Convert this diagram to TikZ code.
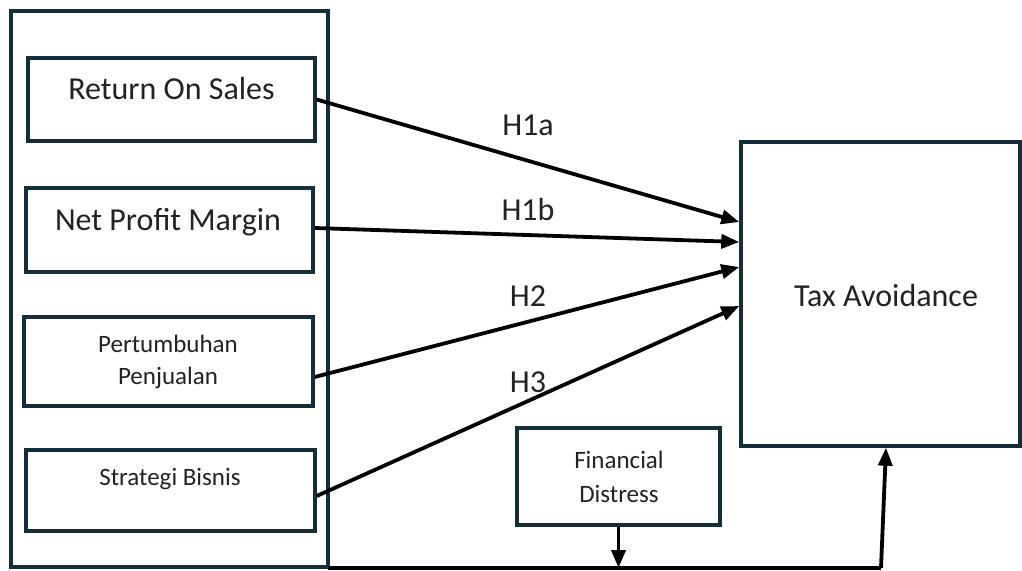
\documentclass[tikz,border=0pt]{standalone}
\usepackage{fontspec}
\setmainfont{Carlito}
\usetikzlibrary{arrows.meta,calc}
\definecolor{boxc}{HTML}{142F3A}
\definecolor{txtc}{HTML}{222222}
\begin{document}
\begin{tikzpicture}[x=1pt,y=-1pt,
  box/.style={draw=boxc,line width=3.4pt,inner sep=0pt,fill=none},
  bigtxt/.style={text=txtc,font=\fontsize{32}{36}\selectfont,anchor=base,inner sep=0pt},
  smalltxt/.style={text=txtc,font=\fontsize{25}{33}\selectfont,anchor=base,inner sep=0pt,align=center},
  conn/.style={black,line width=3.8pt,-{Triangle[length=18pt,width=14pt]}},
  plain/.style={black,line width=3.8pt}]
\useasboundingbox (0,0) rectangle (1022,570);
\fill[white] (0,0) rectangle (1022,570);
% boxes
\node[box,minimum width=317pt,minimum height=556pt] (outer) at (169.5,289) {};
\node[box,minimum width=287pt,minimum height=83pt] (ros) at (171.5,99.5) {};
\node[box,minimum width=287pt,minimum height=84pt] (npm) at (169.5,230) {};
\node[box,minimum width=289pt,minimum height=89pt] (pp) at (168.5,361.5) {};
\node[box,minimum width=289pt,minimum height=81pt] (sb) at (170.5,490.5) {};
\node[box,minimum width=279pt,minimum height=304pt] (tax) at (880.5,294) {};
\node[box,minimum width=203pt,minimum height=97pt] (fd) at (618.5,476.5) {};
% texts
\node[bigtxt] (tros) at (171.5,99) {Return On Sales};
\node[bigtxt] (tnpm) at (168,230) {Net Profit Margin};
\node[smalltxt] (tpp1) at (168,352) {Pertumbuhan};
\node[smalltxt] (tpp2) at (168,384) {Penjualan};
\node[smalltxt] (tsb) at (170,485) {Strategi Bisnis};
\node[bigtxt] (ttax) at (886,306) {Tax Avoidance};
\node[smalltxt] (tfd1) at (619,468) {Financial};
\node[smalltxt] (tfd2) at (619,502) {Distress};
\node[bigtxt] (h1a) at (528,135) {H1a};
\node[bigtxt] (h1b) at (528,220) {H1b};
\node[bigtxt] (h2) at (528,306) {H2};
\node[bigtxt] (h3) at (528,392) {H3};
% connectors
\draw[conn] (ros.east) -- ([yshift=72pt]tax.west);
\draw[conn] ([yshift=2pt]npm.east) -- ([yshift=52pt]tax.west);
\draw[conn] ([yshift=-15.5pt]pp.east) -- ([yshift=27pt]tax.west);
\draw[conn] ([yshift=-5.5pt]sb.east) -- ([yshift=-12pt]tax.west);
\coordinate (bl) at (328,568);
\coordinate (br) at (881,568);
\coordinate (fdj) at (fd.south |- bl);
\draw[conn] (fd.south) -- (fdj);
\draw[plain] (bl) -- (br);
\draw[conn] (br) -- ([xshift=5.5pt]tax.south);
\end{tikzpicture}
\end{document}
